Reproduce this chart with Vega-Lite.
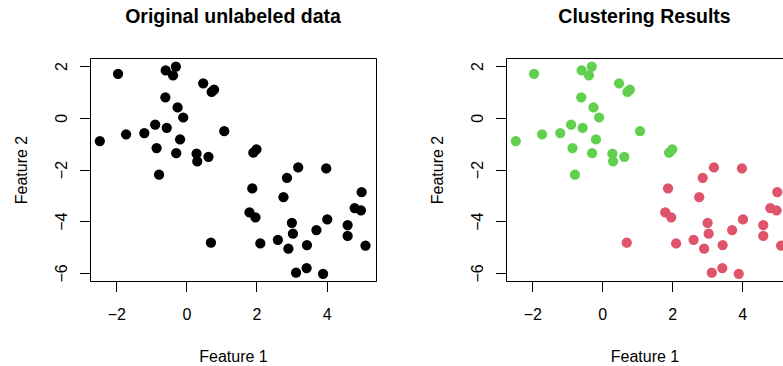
{
  "$schema": "https://vega.github.io/schema/vega-lite/v6.json",
  "padding": {"left": 13, "top": 6, "right": 0, "bottom": 0},
  "spacing": 52,
  "config": {
    "font": "Liberation Sans",
    "view": {"stroke": "black", "strokeWidth": 1},
    "axis": {"domain": false, "grid": false, "tickColor": "black", "tickSize": 10.5, "labelFont": "Liberation Sans", "labelFontSize": 16, "labelColor": "black", "titleFont": "Liberation Sans", "titleFontSize": 16, "titleFontWeight": "normal", "titleColor": "black"},
    "axisX": {"labelPadding": 15, "titlePadding": 26, "labelAngle": 0},
    "axisY": {"labelAngle": -90, "labelPadding": 10, "titlePadding": 24},
    "title": {"fontSize": 19.5, "fontWeight": "bold", "offset": 31, "color": "black", "font": "Liberation Sans"}
  },
  "datasets": {
    "pts": [
      {"x": -1.95, "y": 1.70, "cluster": 2},
      {"x": -0.59, "y": 1.83, "cluster": 2},
      {"x": -0.30, "y": 1.98, "cluster": 2},
      {"x": -0.38, "y": 1.64, "cluster": 2},
      {"x": 0.48, "y": 1.33, "cluster": 2},
      {"x": 0.79, "y": 1.09, "cluster": 2},
      {"x": 0.72, "y": 1.00, "cluster": 2},
      {"x": -0.60, "y": 0.79, "cluster": 2},
      {"x": -0.25, "y": 0.40, "cluster": 2},
      {"x": -0.09, "y": 0.01, "cluster": 2},
      {"x": -2.47, "y": -0.90, "cluster": 2},
      {"x": -1.72, "y": -0.64, "cluster": 2},
      {"x": -1.20, "y": -0.59, "cluster": 2},
      {"x": -0.89, "y": -0.27, "cluster": 2},
      {"x": -0.56, "y": -0.39, "cluster": 2},
      {"x": 1.08, "y": -0.52, "cluster": 2},
      {"x": -0.18, "y": -0.84, "cluster": 2},
      {"x": -0.85, "y": -1.17, "cluster": 2},
      {"x": -0.29, "y": -1.37, "cluster": 2},
      {"x": 0.29, "y": -1.39, "cluster": 2},
      {"x": 0.31, "y": -1.69, "cluster": 2},
      {"x": 0.63, "y": -1.51, "cluster": 2},
      {"x": -0.78, "y": -2.20, "cluster": 2},
      {"x": 1.91, "y": -1.35, "cluster": 2},
      {"x": 2.00, "y": -1.22, "cluster": 2},
      {"x": 3.19, "y": -1.92, "cluster": 1},
      {"x": 3.99, "y": -1.96, "cluster": 1},
      {"x": 2.87, "y": -2.32, "cluster": 1},
      {"x": 1.88, "y": -2.73, "cluster": 1},
      {"x": 2.77, "y": -3.07, "cluster": 1},
      {"x": 5.00, "y": -2.87, "cluster": 1},
      {"x": 1.80, "y": -3.66, "cluster": 1},
      {"x": 1.97, "y": -3.85, "cluster": 1},
      {"x": 4.80, "y": -3.49, "cluster": 1},
      {"x": 4.98, "y": -3.58, "cluster": 1},
      {"x": 3.01, "y": -4.06, "cluster": 1},
      {"x": 4.02, "y": -3.93, "cluster": 1},
      {"x": 4.60, "y": -4.15, "cluster": 1},
      {"x": 3.71, "y": -4.34, "cluster": 1},
      {"x": 3.04, "y": -4.48, "cluster": 1},
      {"x": 4.60, "y": -4.57, "cluster": 1},
      {"x": 0.70, "y": -4.83, "cluster": 1},
      {"x": 2.11, "y": -4.86, "cluster": 1},
      {"x": 2.61, "y": -4.72, "cluster": 1},
      {"x": 2.91, "y": -5.06, "cluster": 1},
      {"x": 3.44, "y": -4.92, "cluster": 1},
      {"x": 5.11, "y": -4.94, "cluster": 1},
      {"x": 3.13, "y": -5.99, "cluster": 1},
      {"x": 3.43, "y": -5.81, "cluster": 1},
      {"x": 3.90, "y": -6.03, "cluster": 1}
    ]
  },
  "hconcat": [
    {
      "title": "Original unlabeled data",
      "width": 286,
      "height": 223,
      "view": {"stroke": "black", "strokeWidth": 1},
      "data": {"name": "pts"},
      "mark": {"type": "point", "filled": true, "size": 105, "opacity": 1, "color": "black"},
      "encoding": {
        "x": {"field": "x", "type": "quantitative", "title": "Feature 1", "scale": {"domain": [-2.75, 5.41], "nice": false, "zero": false}, "axis": {"values": [-2, 0, 2, 4]}},
        "y": {"field": "y", "type": "quantitative", "title": "Feature 2", "scale": {"domain": [-6.31, 2.31], "nice": false, "zero": false}, "axis": {"values": [-6, -4, -2, 0, 2]}}
      }
    },
    {
      "title": "Clustering Results",
      "width": 277,
      "height": 223,
      "view": {"stroke": "black", "strokeWidth": 1},
      "data": {"name": "pts"},
      "mark": {"type": "point", "filled": true, "size": 105, "opacity": 1, "clip": true},
      "encoding": {
        "x": {"field": "x", "type": "quantitative", "title": "Feature 1", "scale": {"domain": [-2.75, 5.164], "nice": false, "zero": false}, "axis": {"values": [-2, 0, 2, 4]}},
        "y": {"field": "y", "type": "quantitative", "title": "Feature 2", "scale": {"domain": [-6.31, 2.31], "nice": false, "zero": false}, "axis": {"values": [-6, -4, -2, 0, 2]}},
        "color": {"field": "cluster", "type": "nominal", "scale": {"domain": [1, 2], "range": ["#DF536B", "#61D04F"]}, "legend": null}
      }
    }
  ]
}
